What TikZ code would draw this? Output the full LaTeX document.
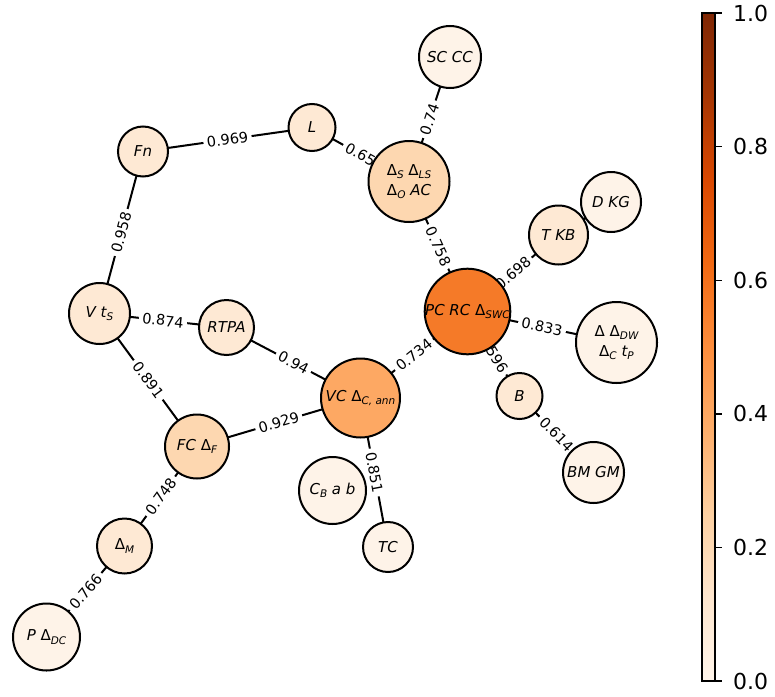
\documentclass[tikz,border=0pt]{standalone}
\usepackage{fontspec}
\setmainfont{DejaVu Sans}
\pgfdeclarelayer{edges}
\pgfsetlayers{edges,main}

% Oranges colour map
\definecolor{or0}{RGB}{255,245,235}
\definecolor{or1}{RGB}{254,230,206}
\definecolor{or2}{RGB}{253,208,162}
\definecolor{or3}{RGB}{253,174,107}
\definecolor{or4}{RGB}{253,141,60}
\definecolor{or5}{RGB}{241,105,19}
\definecolor{or6}{RGB}{217,72,1}
\definecolor{or7}{RGB}{166,54,3}
\definecolor{or8}{RGB}{127,39,4}

% node fills
\definecolor{cLow}{RGB}{254,243,232}
\definecolor{cMid}{RGB}{254,233,212}
\definecolor{cWarm}{RGB}{253,215,176}
\definecolor{cVC}{RGB}{253,168,99}
\definecolor{cPC}{RGB}{245,122,40}

\newcommand\lo[1]{\raisebox{-0.22em}{\fontsize{10.5}{10.5}\selectfont\itshape #1}}
\newcommand\Dl{{\upshape Δ}}

\tikzset{
  vert/.style={circle, draw=black, line width=2pt, inner sep=0pt,
    font=\fontsize{15}{20}\selectfont\itshape, align=center},
  link/.style={line width=2pt, black},
  wlabel/.style={sloped, fill=white, rounded corners=3pt, inner xsep=3.5pt,
    inner ysep=1.5pt, font=\fontsize{14.5}{16}\selectfont, text=black},
  tick/.style={line width=1.4pt, black},
  ticklabel/.style={anchor=west, inner sep=0pt, font=\fontsize{22}{24}\selectfont}
}

\begin{document}
\begin{tikzpicture}[x=1pt,y=-1pt]
\useasboundingbox (0,0) rectangle (775,696);

% vertices
\node[vert, fill=cLow,  minimum size=62pt] (scc) at (450,57)    {SC CC};
\node[vert, fill=cMid,  minimum size=47pt] (l)   at (312,127.5) {L};
\node[vert, fill=cMid,  minimum size=50pt] (fn)  at (143,151.5) {Fn};
\node[vert, fill=cWarm, minimum size=81pt] (ds)  at (409,181.5) {\Dl\lo{S} \Dl\lo{LS}\\ \Dl\lo{O} AC};
\node[vert, fill=cLow,  minimum size=60pt] (dkg) at (611,202)   {D KG};
\node[vert, fill=cMid,  minimum size=59pt] (tkb) at (558.5,235) {T KB};
\node[vert, fill=cMid,  minimum size=61pt] (vts) at (99.5,313.5) {V t\lo{S}};
\node[vert, fill=cMid,  minimum size=55pt] (rtpa) at (226.5,327.5) {RTPA};
\node[vert, fill=cPC,   minimum size=74pt] (pc)  at (467.5,311.5) {PC RC \Dl\lo{SWC}};
\node[vert, fill=cLow,  minimum size=81pt] (ddw) at (616.5,342.5) {\Dl\ \Dl\lo{DW}\\ \Dl\lo{C} t\lo{P}};
\node[vert, fill=cVC,   minimum size=79pt] (vc)  at (360.5,398)  {VC \Dl\lo{C, ann}};
\node[vert, fill=cMid,  minimum size=46pt] (b)   at (519.5,396)  {B};
\node[vert, fill=cWarm, minimum size=64pt] (fc)  at (197,446.5)  {FC \Dl\lo{F}};
\node[vert, fill=cLow,  minimum size=67pt] (cb)  at (332.5,490.5) {C\lo{B} a b};
\node[vert, fill=cLow,  minimum size=61pt] (bm)  at (593.5,472.5) {BM GM};
\node[vert, fill=cLow,  minimum size=50pt] (tc)  at (388,547)    {TC};
\node[vert, fill=cMid,  minimum size=55pt] (dm)  at (124.5,546)  {\Dl\lo{M}};
\node[vert, fill=cLow,  minimum size=67pt] (pdc) at (46.5,637)   {P \Dl\lo{DC}};

% weighted links, kept underneath the vertices
\begin{pgfonlayer}{edges}
\draw[link] (fn.center)   -- node[wlabel] {0.969} (l.center);
\draw[link] (l.center)    -- node[wlabel] {0.65}  (ds.center);
\draw[link] (scc.center)  -- node[wlabel] {0.74}  (ds.center);
\draw[link] (ds.center)   -- node[wlabel] {0.758} (pc.center);
\draw[link] (tkb.center)  -- node[wlabel] {0.698} (pc.center);
\draw[link] (dkg.center)  -- (tkb.center);
\draw[link] (pc.center)   -- node[wlabel] {0.833} (ddw.center);
\draw[link] (pc.center)   -- node[wlabel] {0.596} (b.center);
\draw[link] (b.center)    -- node[wlabel] {0.614} (bm.center);
\draw[link] (pc.center)   -- node[wlabel] {0.734} (vc.center);
\draw[link] (vc.center)   -- node[wlabel] {0.94}  (rtpa.center);
\draw[link] (vc.center)   -- node[wlabel] {0.929} (fc.center);
\draw[link] (vc.center)   -- node[wlabel] {0.851} (tc.center);
\draw[link] (rtpa.center) -- node[wlabel] {0.874} (vts.center);
\draw[link] (vts.center)  -- node[wlabel] {0.958} (fn.center);
\draw[link] (vts.center)  -- node[wlabel] {0.891} (fc.center);
\draw[link] (fc.center)   -- node[wlabel] {0.748} (dm.center);
\draw[link] (dm.center)   -- node[wlabel] {0.766} (pdc.center);
\end{pgfonlayer}

% colour bar
\coordinate (cbtop) at (702,13);
\coordinate (cbbot) at (715,681);
\shade[top color=or1, bottom color=or0] (702,681) rectangle (715,597.5);
\shade[top color=or2, bottom color=or1] (702,597.5) rectangle (715,514);
\shade[top color=or3, bottom color=or2] (702,514) rectangle (715,430.5);
\shade[top color=or4, bottom color=or3] (702,430.5) rectangle (715,347);
\shade[top color=or5, bottom color=or4] (702,347) rectangle (715,263.5);
\shade[top color=or6, bottom color=or5] (702,263.5) rectangle (715,180);
\shade[top color=or7, bottom color=or6] (702,180) rectangle (715,96.5);
\shade[top color=or8, bottom color=or7] (702,96.5) rectangle (715,13);
\draw[line width=1.4pt] (cbtop) rectangle (cbbot);
\foreach \v/\t in {0/0.0, 1/0.2, 2/0.4, 3/0.6, 4/0.8, 5/1.0} {
  \draw[tick] (715,681-133.6*\v) -- (722,681-133.6*\v);
  \node[ticklabel] (tl\v) at (733,681-133.6*\v) {\t};
}
\end{tikzpicture}
\end{document}
